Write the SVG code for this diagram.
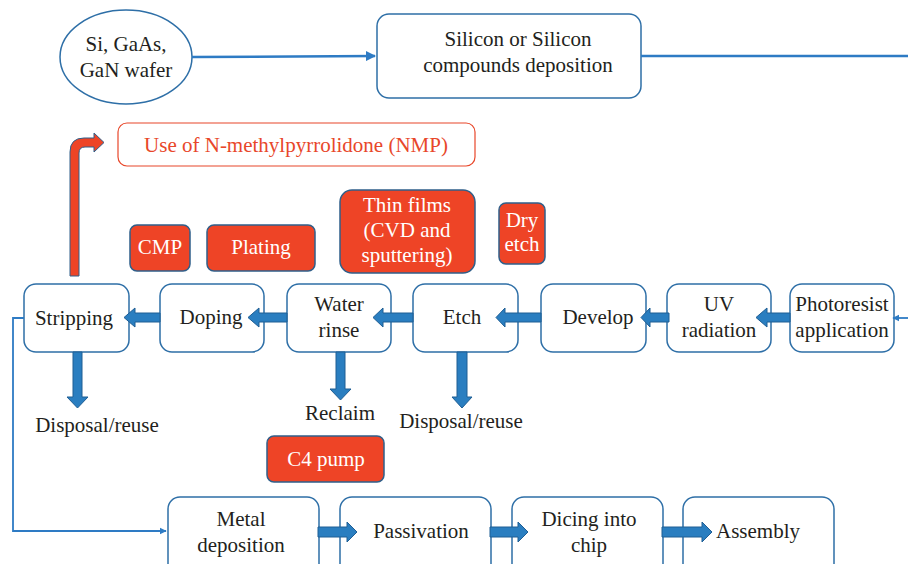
<svg xmlns="http://www.w3.org/2000/svg" width="908" height="564" viewBox="0 0 908 564" font-family="'Liberation Serif', 'Times New Roman', serif">
<style>
text{font-family:'Liberation Serif','Times New Roman',serif;font-size:21px;fill:#231F20;text-anchor:middle}
.box{fill:#fff;stroke:#2E6FA7;stroke-width:1.5}
.red{fill:#EE4426;stroke:#2F5F8A;stroke-width:1.5}
text.wt{fill:#fff}
text.nt{fill:#E8472A}
.blk{fill:#2A7EC0;stroke:#1F5E94;stroke-width:1}
.ln{fill:none;stroke:#2E7BC4;stroke-width:2.5}
.tn{fill:none;stroke:#2E7BC4;stroke-width:1.8}
</style>
<defs>
<marker id="ah" viewBox="0 0 10 10" refX="9" refY="5" markerWidth="4" markerHeight="4" orient="auto" markerUnits="strokeWidth">
<path d="M0,0 L10,5 L0,10 Z" fill="#2E7BC4"/>
</marker>
</defs>
<rect width="908" height="564" fill="#fff"/>

<g id="wafer">
<ellipse cx="126" cy="57" rx="66" ry="47" fill="#fff" stroke="#2E6FA7" stroke-width="1.5"/>
<text x="126" y="51">Si, GaAs,</text>
<text x="126" y="77">GaN wafer</text>
</g>
<g id="silicon">
<rect class="box" x="377" y="14" width="264" height="84" rx="12"/>
<text x="518" y="46">Silicon or Silicon</text>
<text x="518" y="72">compounds deposition</text>
</g>
<g id="nmp">
<rect x="118" y="123" width="357" height="43" rx="9" fill="#fff" stroke="#E8472A" stroke-width="1.2"/>
<text class="nt" x="296" y="152">Use of N-methylpyrrolidone (NMP)</text>
</g>
<g id="cmp">
<rect class="red" x="130" y="225" width="60" height="46" rx="7"/>
<text class="wt" x="160" y="254">CMP</text>
</g>
<g id="plating">
<rect class="red" x="207" y="225" width="108" height="46" rx="7"/>
<text class="wt" x="261" y="254">Plating</text>
</g>
<g id="thinfilms">
<rect class="red" x="340" y="190" width="135" height="83" rx="12"/>
<text class="wt" x="407" y="212">Thin films</text>
<text class="wt" x="407" y="237">(CVD and</text>
<text class="wt" x="407" y="262">sputtering)</text>
</g>
<g id="dryetch">
<rect class="red" x="499" y="203" width="46" height="61" rx="7"/>
<text class="wt" x="522" y="227">Dry</text>
<text class="wt" x="522" y="251">etch</text>
</g>
<g id="c4pump">
<rect class="red" x="267" y="436" width="117" height="46" rx="7"/>
<text class="wt" x="326" y="466">C4 pump</text>
</g>

<g id="stripping">
<rect class="box" x="24" y="284" width="105" height="68" rx="12"/>
<text x="74" y="325">Stripping</text>
</g>
<g id="doping">
<rect class="box" x="160" y="284" width="104" height="68" rx="12"/>
<text x="211" y="324">Doping</text>
</g>
<g id="waterrinse">
<rect class="box" x="287" y="284" width="104" height="68" rx="12"/>
<text x="339" y="311">Water</text>
<text x="339" y="337">rinse</text>
</g>
<g id="etch">
<rect class="box" x="413" y="284" width="105" height="68" rx="12"/>
<text x="462" y="324">Etch</text>
</g>
<g id="develop">
<rect class="box" x="541" y="284" width="105" height="68" rx="12"/>
<text x="598" y="324">Develop</text>
</g>
<g id="uv">
<rect class="box" x="667" y="284" width="104" height="68" rx="12"/>
<text x="719" y="311">UV</text>
<text x="719" y="337">radiation</text>
</g>
<g id="photoresist">
<rect class="box" x="790" y="284" width="104" height="68" rx="12"/>
<text x="842" y="311">Photoresist</text>
<text x="842" y="337">application</text>
</g>

<g id="labels">
<text x="97" y="432">Disposal/reuse</text>
<text x="340" y="420">Reclaim</text>
<text x="461" y="428">Disposal/reuse</text>
</g>

<g id="metal">
<rect class="box" x="168" y="497" width="151" height="80" rx="12"/>
<text x="241" y="526">Metal</text>
<text x="241" y="552">deposition</text>
</g>
<g id="passivation">
<rect class="box" x="340" y="497" width="151" height="80" rx="12"/>
<text x="421" y="538">Passivation</text>
</g>
<g id="dicing">
<rect class="box" x="512" y="497" width="151" height="80" rx="12"/>
<text x="589" y="526">Dicing into</text>
<text x="589" y="552">chip</text>
</g>
<g id="assembly">
<rect class="box" x="683" y="497" width="151" height="80" rx="12"/>
<text x="758" y="538">Assembly</text>
</g>

<g id="connectors">
<path class="ln" d="M192,57 L375,56" marker-end="url(#ah)"/>
<path class="ln" d="M641,56 L908,56"/>
<path class="tn" d="M908,318 L893,318" marker-end="url(#ah)"/>
<path class="tn" d="M24,318 L13,318 L13,531 L166,531" marker-end="url(#ah)"/>
<polygon class="blk" points="790,313 767,313 767,308 756,317.5 767,327 767,322 790,322"/>
<polygon class="blk" points="669,313 650,313 650,308 641,317.5 650,327 650,322 669,322"/>
<polygon class="blk" points="541,313 505,313 505,308 496,317.5 505,327 505,322 541,322"/>
<polygon class="blk" points="413,313 383,313 383,308 373,317.5 383,327 383,322 413,322"/>
<polygon class="blk" points="287,313 259,313 259,308 248,317.5 259,327 259,322 287,322"/>
<polygon class="blk" points="160,313 135,313 135,308 124,317.5 135,327 135,322 160,322"/>
<polygon class="blk" points="73,352 73,397 67,397 77.5,408 88,397 82,397 82,352"/>
<polygon class="blk" points="336,352 336,389 330,389 340.5,400 351,389 345,389 345,352"/>
<polygon class="blk" points="457,352 457,397 452,397 462,408 472,397 467,397 467,352"/>
<polygon class="blk" points="318,527 347,527 347,522 357,532 347,542 347,537 318,537"/>
<polygon class="blk" points="490,527 518,527 518,522 528,532 518,542 518,537 490,537"/>
<polygon class="blk" points="662,527 702,527 702,522 712,532 702,542 702,537 662,537"/>
<path d="M70,276 L70,152 Q70,138 84,138 L94,138 L94,133 L104,142.5 L94,152 L94,147 L85,147 Q79,147 79,153 L79,276 Z" fill="#EE4426" stroke="#2F5F8A" stroke-width="1"/>
</g>
</svg>
